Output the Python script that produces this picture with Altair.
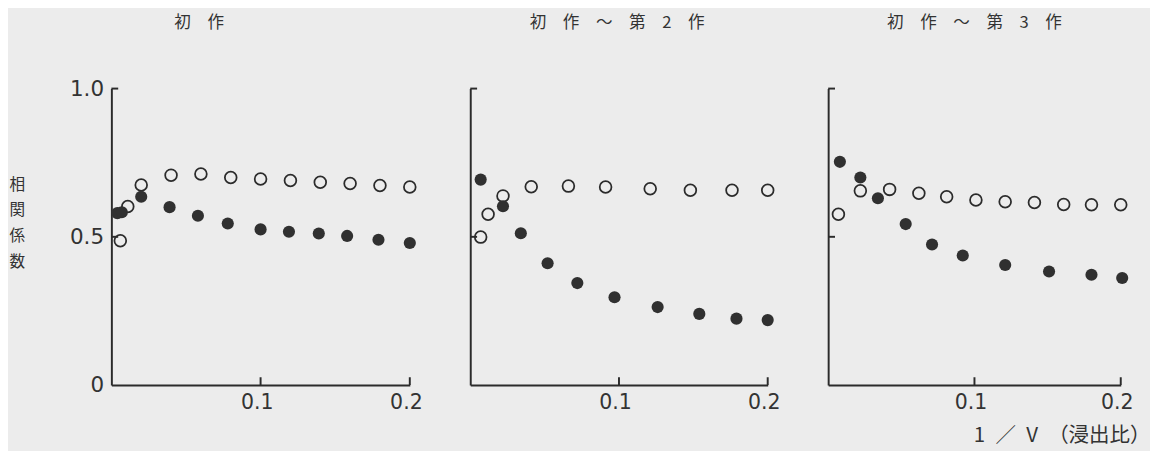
import altair as alt
import pandas as pd

# ---- data ----
titles = ["初\u3000作", "初\u3000作\u3000～\u3000第\u30002\u3000作", "初\u3000作\u3000～\u3000第\u30003\u3000作"]

p1_open_x = [0.006, 0.011, 0.020, 0.040, 0.060, 0.080, 0.100, 0.120, 0.140, 0.160, 0.180, 0.200]
p1_open_y = [0.487, 0.602, 0.675, 0.708, 0.712, 0.700, 0.695, 0.690, 0.684, 0.680, 0.673, 0.668]
p1_fill_x = [0.004, 0.007, 0.020, 0.039, 0.058, 0.078, 0.100, 0.119, 0.139, 0.158, 0.179, 0.200]
p1_fill_y = [0.580, 0.583, 0.635, 0.600, 0.571, 0.545, 0.525, 0.517, 0.511, 0.503, 0.490, 0.479]

p2_open_x = [0.007, 0.012, 0.022, 0.041, 0.066, 0.091, 0.121, 0.148, 0.176, 0.200]
p2_open_y = [0.499, 0.576, 0.638, 0.669, 0.671, 0.668, 0.662, 0.657, 0.657, 0.657]
p2_fill_x = [0.007, 0.022, 0.034, 0.052, 0.072, 0.097, 0.126, 0.154, 0.179, 0.200]
p2_fill_y = [0.693, 0.603, 0.512, 0.411, 0.344, 0.296, 0.263, 0.240, 0.224, 0.219]

p3_open_x = [0.007, 0.022, 0.042, 0.062, 0.081, 0.101, 0.121, 0.141, 0.161, 0.180, 0.200]
p3_open_y = [0.576, 0.655, 0.660, 0.647, 0.635, 0.624, 0.618, 0.616, 0.609, 0.608, 0.608]
p3_fill_x = [0.008, 0.022, 0.034, 0.053, 0.071, 0.092, 0.121, 0.151, 0.180, 0.201]
p3_fill_y = [0.753, 0.700, 0.630, 0.543, 0.474, 0.437, 0.405, 0.383, 0.372, 0.361]

y_tick_values = [1.0, 0.5]
x_tick_values = [0.1, 0.2]
y_label_values = [0, 0.5, 1.0]

y_title = ["相", "関", "係", "数"]
x_title = "1\u2002／\u2002V\u2002（浸出比）"

BG = "#ececec"
INK = "#2b2b2b"
TXT = "#333333"
CJK = "Noto Sans CJK JP"
NUM = "DejaVu Sans"
H = 304


def make_panel(i, ox, oy, fx, fy, width, title, title_dx, title_offset):
    rows = (
        [{"x": a, "y": b, "kind": "open"} for a, b in zip(ox, oy)]
        + [{"x": a, "y": b, "kind": "filled"} for a, b in zip(fx, fy)]
        + [{"x": None, "y": v, "kind": "ytick"} for v in y_tick_values]
        + [{"x": v, "y": None, "kind": "xtick"} for v in x_tick_values]
    )
    df = pd.DataFrame(rows)

    xaxis_kw = dict(
        values=x_tick_values, format=".1f", ticks=False, grid=False,
        domainColor=INK, domainWidth=2, labelFlush=False,
        labelFont=NUM, labelFontSize=21, labelColor=TXT, labelPadding=7,
        labelOffset=-4,
    )
    if i == 2:
        xaxis_kw.update(
            title=x_title, titleFont=CJK, titleFontSize=21, titleFontWeight="normal",
            titleColor=TXT, titleAngle=0, titleAlign="right", titleBaseline="middle",
            titleX=width + 30, titleY=52,
        )
        xenc = alt.X("x:Q", scale=alt.Scale(domain=[0, 0.2], nice=False, zero=False),
                     axis=alt.Axis(**xaxis_kw))
    else:
        xenc = alt.X("x:Q", scale=alt.Scale(domain=[0, 0.2], nice=False, zero=False),
                     axis=alt.Axis(**xaxis_kw), title=None)

    if i == 0:
        yaxis = alt.Axis(
            values=y_label_values, ticks=False, grid=False,
            labelExpr="datum.value == 0 ? '0' : format(datum.value, '.1f')",
            domainColor=INK, domainWidth=2,
            labelFont=NUM, labelFontSize=22, labelColor=TXT, labelPadding=8,
            title=y_title, titleFont=CJK, titleFontSize=16, titleFontWeight="normal",
            titleColor=TXT, titleAngle=0, titleAlign="center", titleBaseline="top",
            titleX=-97, titleY=90, titleLineHeight=26.5,
        )
        yenc = alt.Y("y:Q", scale=alt.Scale(domain=[0, 1], nice=False), axis=yaxis)
    else:
        yaxis = alt.Axis(labels=False, ticks=False, grid=False,
                         domainColor=INK, domainWidth=2)
        yenc = alt.Y("y:Q", scale=alt.Scale(domain=[0, 1], nice=False), axis=yaxis, title=None)

    base = alt.Chart(df)
    open_pts = base.transform_filter(alt.datum.kind == "open").mark_point(
        shape="circle", filled=False, size=145, strokeWidth=1.8, color=INK, opacity=1
    ).encode(x=xenc, y=yenc)
    fill_pts = base.transform_filter(alt.datum.kind == "filled").mark_point(
        shape="circle", filled=True, size=155, color="#303030", opacity=1
    ).encode(x=xenc, y=yenc)
    yt = base.transform_filter(alt.datum.kind == "ytick").mark_rule(
        color=INK, strokeWidth=2
    ).encode(y=yenc, x=alt.value(0), x2=alt.value(7))
    xt = base.transform_filter(alt.datum.kind == "xtick").mark_rule(
        color=INK, strokeWidth=2
    ).encode(x=xenc, y=alt.value(H), y2=alt.value(H - 8))

    return alt.layer(open_pts, fill_pts, yt, xt).properties(
        width=width, height=H,
        title=alt.TitleParams(
            text=title, font=CJK, fontSize=17, fontWeight="normal", color=TXT,
            anchor="middle", dx=title_dx, offset=title_offset, frame="group",
        ),
    )


p1 = make_panel(0, p1_open_x, p1_open_y, p1_fill_x, p1_fill_y, 306, titles[0], -63, 47)
p2 = make_panel(1, p2_open_x, p2_open_y, p2_fill_x, p2_fill_y, 305, titles[1], -2, 57)
p3 = make_panel(2, p3_open_x, p3_open_y, p3_fill_x, p3_fill_y, 300, titles[2], 0, 57)

chart = alt.hconcat(p1, p2, p3, spacing=62, bounds="flush").configure(
    background=BG, padding={"top": 1, "left": 0, "right": 0, "bottom": 0}
).configure_view(stroke=None)

chart.save("out.html", embed_options={"renderer": "svg", "actions": False})
